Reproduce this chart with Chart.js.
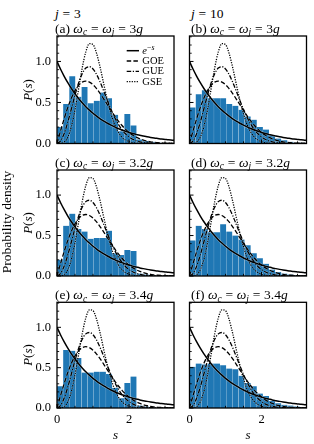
<!DOCTYPE html>
<html><head><meta charset="utf-8">
<script src="https://cdn.jsdelivr.net/npm/chart.js@4.4.1/dist/chart.umd.min.js"></script>
<style>
html,body{margin:0;padding:0;background:#fff;}
#fig{position:relative;width:314px;height:444px;overflow:hidden;font-family:'Liberation Serif','DejaVu Serif',serif;color:#000;}
#fig canvas{position:absolute;}
.t{position:absolute;white-space:nowrap;font-size:13.5px;line-height:14px;color:#000;}
.rot{position:absolute;white-space:nowrap;transform:translate(-50%,-50%) rotate(-90deg);color:#000;}
.sub{font-size:70%;position:relative;top:0.3em;}
.sup{font-size:75%;position:relative;top:-0.45em;}
.eq{margin:0 0.28em;}
.lg{position:absolute;white-space:nowrap;font-size:10.5px;line-height:10px;transform:translateY(-50%);color:#000;}
</style>
</head><body>
<div id="fig"></div>
<script>
// ---------- data ----------
const sGrid = [0,0.1,0.2,0.3,0.4,0.5,0.6,0.7,0.8,0.9,1.0,1.1,1.2,1.3,1.4,1.5,1.6,1.7,1.8,1.9,2.0,2.1,2.2,2.3,2.4,2.5,2.6,2.7,2.8,2.9,3.0,3.1,3.2,3.3];
const poissonCurve = [1,0.905,0.819,0.741,0.670,0.607,0.549,0.497,0.449,0.407,0.368,0.333,0.301,0.273,0.247,0.223,0.202,0.183,0.165,0.150,0.135,0.122,0.111,0.100,0.091,0.082,0.074,0.067,0.061,0.055,0.050,0.045,0.041,0.037];
const goeCurve = [0,0.156,0.304,0.439,0.554,0.645,0.710,0.748,0.760,0.748,0.716,0.668,0.608,0.542,0.472,0.403,0.337,0.276,0.222,0.175,0.136,0.103,0.077,0.057,0.041,0.029,0.020,0.014,0.009,0.006,0.004,0.003,0.002,0.001];
const gueCurve = [0,0.032,0.123,0.260,0.423,0.590,0.738,0.851,0.919,0.936,0.908,0.841,0.747,0.637,0.524,0.416,0.319,0.237,0.170,0.118,0.080,0.052,0.033,0.020,0.012,0.007,0.004,0.002,0.001,0.001,0,0,0,0];
const gseCurve = [0,0.001,0.017,0.077,0.207,0.412,0.665,0.919,1.116,1.217,1.206,1.098,0.924,0.723,0.527,0.361,0.231,0.140,0.080,0.043,0.022,0.010,0.005,0.002,0.001,0,0,0,0,0,0,0,0,0];

const binCenters = [0.085,0.255,0.425,0.595,0.765,0.935,1.105,1.275,1.445,1.615,1.785,1.955,2.125,2.295,2.465,2.635,2.805,2.975,3.145];
const histA = [0.20,0.48,0.82,0.57,0.69,0.49,0.52,0.62,0.55,0.35,0.15,0.36,0.22,0.05,0.03,0.02,0.01,0.00,0.00];
const histB = [0.44,0.60,0.65,0.55,0.55,0.55,0.48,0.46,0.41,0.33,0.29,0.20,0.17,0.10,0.06,0.04,0.02,0.01,0.01];
const histC = [0.20,0.62,0.77,0.58,0.55,0.46,0.47,0.47,0.56,0.28,0.26,0.32,0.31,0.03,0.02,0.01,0.00,0.00,0.00];
const histD = [0.44,0.62,0.58,0.54,0.54,0.64,0.55,0.50,0.45,0.38,0.28,0.22,0.15,0.08,0.05,0.03,0.02,0.01,0.01];
const histE = [0.27,0.72,0.71,0.62,0.44,0.44,0.45,0.45,0.42,0.25,0.12,0.31,0.39,0.03,0.02,0.01,0.00,0.00,0.00];
const histF = [0.51,0.55,0.54,0.55,0.55,0.53,0.49,0.48,0.40,0.31,0.27,0.18,0.15,0.09,0.06,0.04,0.03,0.02,0.01];

const panelLetters = ['a','b','c','d','e','f'];
const couplings = ['3','3','3.2','3.2','3.4','3.4'];
const jValues = ['3','10'];
const yTickValues = [0, 0.5, 1.0];
const yMinorTicks = [0.1,0.2,0.3,0.4,0.6,0.7,0.8,0.9,1.1,1.2,1.3];
const xTickValues = [0, 2];
const xMinorTicks = [0.5,1,1.5,2.5,3];

// ---------- layout ----------
const X_MAX = 3.25, Y_MAX = 1.31;
const colLeft = [57, 189.5], plotW = 117;
const rowTop = [36, 170, 302.3], rowH = [107.5, 106, 105.7];
const BLUE = '#1f77b4';
const dashes = {poisson: [], goe: [4.5,2.2], gue: [4.5,1.6,1.2,1.6], gse: [1.2,1.3]};
const widths = {poisson: 1.5, goe: 1.3, gue: 1.3, gse: 1.3};

const fig = document.getElementById('fig');
const hists = [histA,histB,histC,histD,histE,histF];

function pts(arr){ return sGrid.map((s,i)=>({x:s,y:arr[i]})); }
const curves = [['poisson',poissonCurve],['goe',goeCurve],['gue',gueCurve],['gse',gseCurve]];

const framePlugin = {
  id: 'frame',
  afterDatasetsDraw(chart, args, opts) {
    const {ctx, chartArea: a, scales: {x, y}} = chart;
    ctx.save();
    ctx.strokeStyle = '#000';
    const seg = (x1,y1,x2,y2)=>{ctx.beginPath();ctx.moveTo(x1,y1);ctx.lineTo(x2,y2);ctx.stroke();};
    ctx.lineWidth = 0.9;
    yMinorTicks.forEach(v=>{const p=y.getPixelForValue(v); seg(a.left,p,a.left+2.2,p);});
    xMinorTicks.forEach(v=>{const p=x.getPixelForValue(v); seg(p,a.bottom,p,a.bottom-2.2);});
    ctx.lineWidth = 1;
    yTickValues.forEach(v=>{const p=y.getPixelForValue(v); seg(a.left,p,a.left+4,p);});
    xTickValues.forEach(v=>{const p=x.getPixelForValue(v); seg(p,a.bottom,p,a.bottom-4);});
    if (opts.legend) {
      const keys = ['poisson','goe','gue','gse'];
      keys.forEach((k,i)=>{
        const yy = a.top + 14.7 + i*10.3;
        ctx.setLineDash(dashes[k]); ctx.lineWidth = widths[k];
        seg(a.left+69.7, yy, a.left+82, yy);
      });
      ctx.setLineDash([]);
    }
    ctx.lineWidth = 1.3;
    ctx.strokeRect(a.left, a.top, a.width, a.height);
    ctx.restore();
  }
};

function zeroPad(s){ s.paddingTop = 0; s.paddingBottom = 0; s.paddingLeft = 0; s.paddingRight = 0; }

hists.forEach((h, idx) => {
  const col = idx % 2, row = Math.floor(idx/2);
  const bottomRow = row === 2;
  const left = col === 0 ? 0 : 186;
  const cw = col === 0 ? 180 : 124;
  const padL = col === 0 ? 0 : colLeft[1] - left;
  const padR = cw - (col === 0 ? colLeft[0] : padL) - plotW;
  const top = Math.floor(rowTop[row] - 4);
  const padT = rowTop[row] - top;
  const xH = bottomRow ? 30 : 0;
  const ch = Math.ceil(padT + rowH[row] + (bottomRow ? xH : 4));
  const padB = ch - padT - rowH[row] - xH;
  const cv = document.createElement('canvas');
  cv.width = cw; cv.height = ch;
  cv.style.left = left + 'px'; cv.style.top = top + 'px';
  cv.style.width = cw + 'px'; cv.style.height = ch + 'px';
  fig.appendChild(cv);

  const datasets = [];
  curves.forEach(([k, arr]) => {
    datasets.push({type:'line', data: pts(arr), borderColor:'#000', borderWidth: widths[k], borderDash: dashes[k],
      pointRadius:0, cubicInterpolationMode:'monotone', fill:false, order:0});
    datasets.push({type:'line', data: pts(arr), borderColor:'rgba(255,255,255,0.5)', borderWidth: widths[k]+0.8, borderDash: dashes[k],
      pointRadius:0, cubicInterpolationMode:'monotone', fill:false, order:1});
  });
  datasets.push({type:'bar', data: binCenters.map((c,i)=>({x:c,y:h[i]})), backgroundColor: BLUE,
    borderColor:'rgba(255,255,255,0.18)', borderWidth:{left:0.4,right:0.4,top:0,bottom:0}, borderSkipped:false,
    barPercentage:1, categoryPercentage:1, order:2});

  new Chart(cv, {
    type: 'bar',
    data: { datasets },
    options: {
      responsive: false, animation: false, devicePixelRatio: 1,
      layout: { padding: { left: padL, right: padR, top: padT, bottom: padB } },
      plugins: { legend: { display: false }, tooltip: { enabled: false }, frame: { legend: idx === 0 } },
      scales: {
        x: {
          type: 'linear', min: 0, max: X_MAX, offset: false,
          grid: { display: false, drawTicks: false }, border: { display: false },
          afterBuildTicks: s => { s.ticks = xTickValues.map(v => ({value: v})); },
          afterFit: s => { s.height = xH; zeroPad(s); },
          ticks: { display: bottomRow, padding: 4, color: '#000', maxRotation: 0, font: { family: "'Liberation Serif', serif", size: 12.5 },
            callback: v => String(v) }
        },
        y: {
          type: 'linear', min: 0, max: Y_MAX,
          grid: { display: false, drawTicks: false }, border: { display: false },
          afterBuildTicks: s => { s.ticks = yTickValues.map(v => ({value: v})); },
          afterFit: s => { s.width = col === 0 ? colLeft[0] : 0; zeroPad(s); },
          ticks: { display: col === 0, padding: 6, color: '#000', font: { family: "'Liberation Serif', serif", size: 12.5 },
            callback: v => Number(v).toFixed(1) }
        }
      }
    },
    plugins: [framePlugin]
  });
});

// ---------- text ----------
function addDiv(cls, html, style) {
  const d = document.createElement('div'); d.className = cls; d.innerHTML = html;
  Object.assign(d.style, style); fig.appendChild(d); return d;
}
const titleLeft = [55, 191];
jValues.forEach((j, c) => addDiv('t', '<i>j</i><span class="eq">=</span>' + j, {left: titleLeft[c] + 'px', top: '7px'}));
panelLetters.forEach((L, idx) => {
  const col = idx % 2, row = Math.floor(idx/2);
  addDiv('t', '(' + L + ') <i>ω</i><span class="sub"><i>c</i></span><span class="eq">=</span><i>ω</i><span class="sub"><i>j</i></span><span class="eq">=</span>' + couplings[idx] + '<i>g</i>',
    {left: titleLeft[col] + 'px', top: (rowTop[row] - 14.5) + 'px'});
});
rowTop.forEach((t, r) => addDiv('rot', '<i>P</i>(<i>s</i>)', {left: '28px', top: (t + rowH[r]/2) + 'px', fontSize: '13px'}));
addDiv('rot', 'Probability density', {left: '7px', top: '222px', fontSize: '13.5px'});
[colLeft[0] + plotW/2, colLeft[1] + plotW/2].forEach(cx => addDiv('rot', '<i>s</i>', {left: cx + 'px', top: '435px', fontSize: '13px', transform: 'translate(-50%,-50%)'}));
// legend labels
const lgHtml = ['<i>e</i><span class="sup">−<i>s</i></span>', 'GOE', 'GUE', 'GSE'];
lgHtml.forEach((h, i) => addDiv('lg', h, {left: '142.3px', top: (rowTop[0] + 14.7 + i*10.3) + 'px'}));
</script>
</body></html>
